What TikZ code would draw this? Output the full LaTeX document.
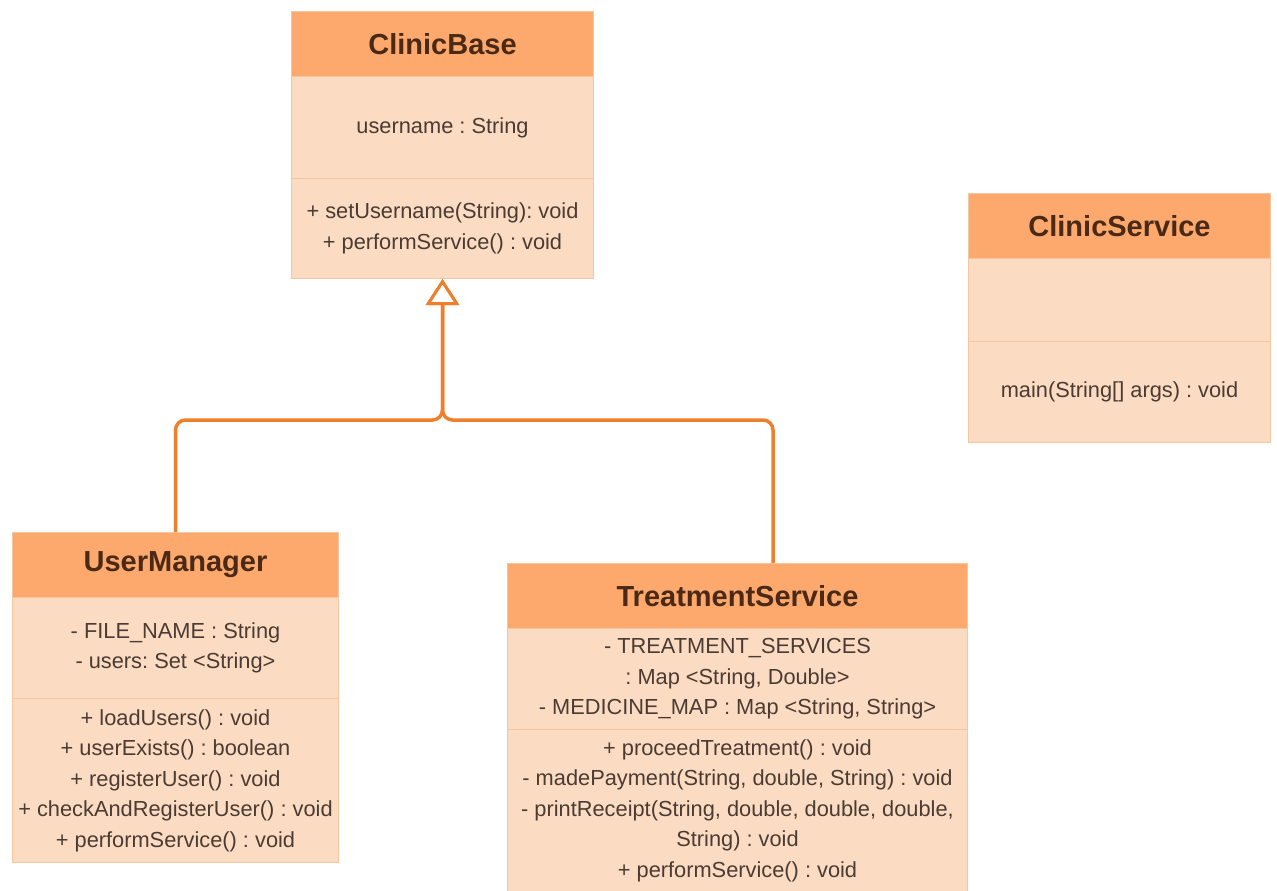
\documentclass[tikz,border=0pt]{standalone}
\usepackage{fontspec}
\setmainfont{Liberation Sans}
\usetikzlibrary{arrows.meta}
\definecolor{hdrfill}{HTML}{FDA86C}
\definecolor{bodyfill}{HTML}{FBDCC3}
\definecolor{boxline}{HTML}{F6C6A0}
\definecolor{connline}{HTML}{EE7F2D}
\definecolor{hdrtext}{HTML}{4A2A16}
\definecolor{bodytext}{HTML}{4A3B33}
\tikzset{
  part/.style={draw=boxline, line width=1pt, anchor=north west, inner sep=0pt, align=center,
    font=\fontsize{21.8}{30.5}\selectfont\frenchspacing, text=bodytext, fill=bodyfill},
  hdr/.style={part, fill=hdrfill, font=\fontsize{29}{32}\selectfont\bfseries, text=hdrtext},
  inh/.style={draw=connline, line width=3.5pt, rounded corners=10pt,
    -{Triangle[open, length=26pt, width=33pt, fill=white, line width=3pt]}}
}
\begin{document}
\begin{tikzpicture}[x=1pt,y=-1pt]
\useasboundingbox (0,0) rectangle (1277,891);
% ClinicBase
\node[hdr, minimum width=302pt, minimum height=65pt] (cbh) at (291,11) {ClinicBase};
\node[part, minimum width=302pt, minimum height=102pt] (cba) at (291,76) {username : String};
\node[part, minimum width=302pt, minimum height=100pt] (cbm) at (291,178) {+ setUsername(String): void\\+ performService() : void};
% ClinicService
\node[hdr, minimum width=302pt, minimum height=65pt] (csh) at (968,193) {ClinicService};
\node[part, minimum width=302pt, minimum height=83pt] (csa) at (968,258) {};
\node[part, minimum width=302pt, minimum height=101pt] (csm) at (968,341) {main(String[] args) : void};
% UserManager
\node[hdr, minimum width=326pt, minimum height=65pt] (umh) at (12,532) {UserManager};
\node[part, minimum width=326pt, minimum height=101pt] (uma) at (12,597) {- FILE\_NAME : String\\- users: Set <String>};
\node[part, minimum width=326pt, minimum height=164pt] (umm) at (12,698) {+ loadUsers() : void\\+ userExists() : boolean\\+ registerUser() : void\\+ checkAndRegisterUser() : void\\+ performService() : void};
% TreatmentService
\node[hdr, minimum width=460pt, minimum height=65pt] (tsh) at (507,563) {TreatmentService};
\node[part, minimum width=460pt, minimum height=101pt] (tsa) at (507,628) {- TREATMENT\_SERVICES\\: Map <String, Double>\\- MEDICINE\_MAP : Map <String, String>};
\node[part, minimum width=460pt, minimum height=162pt] (tsm) at (507,729) {+ proceedTreatment() : void\\- madePayment(String, double, String) : void\\- printReceipt(String, double, double, double,\\String) : void\\+ performService() : void};
% connectors
\coordinate (j) at (cbm.south |- 0,420);
\coordinate (tstop) at (773,563);
\draw[inh] (tstop) |- (j) -- (cbm.south);
\draw[inh] (umh.north) |- (j) -- (cbm.south);
\end{tikzpicture}
\end{document}
